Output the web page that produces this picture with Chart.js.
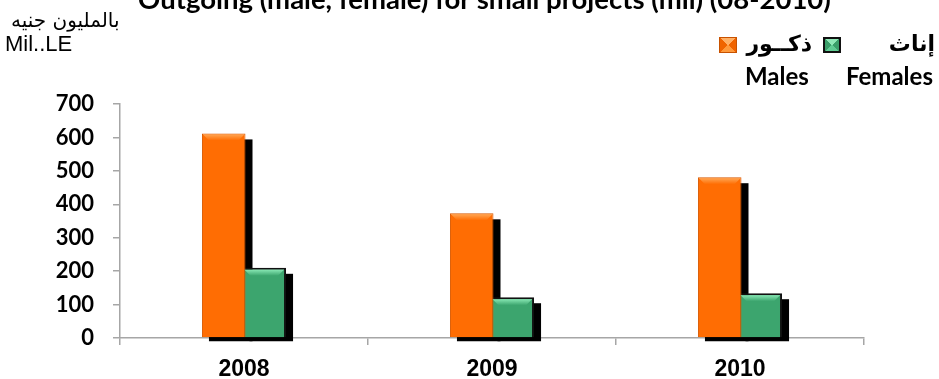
<!DOCTYPE html>
<html>
<head>
<meta charset="utf-8">
<script src="https://cdn.jsdelivr.net/npm/chart.js@4.4.0/dist/chart.umd.min.js"></script>
<style>
  html, body { margin: 0; padding: 0; background: #fff; }
  #wrap { position: relative; width: 939px; height: 379px; overflow: hidden; }
  #chart { position: absolute; left: 0; top: 0; }
  .txt { position: absolute; white-space: nowrap; color: #000; line-height: 1; }
  #title { left: 15px; width: 939px; text-align: center; top: -18px; font: bold 27.5px Lato, sans-serif; }
  #unitAr { left: 11px; top: 8px; font: 20px "DejaVu Sans", sans-serif; direction: rtl; }
  #unitEn { left: 5px; top: 31px; font: 22px "Liberation Sans", Arial, sans-serif; }
  .ar { font: bold 22px "DejaVu Sans", sans-serif; direction: rtl; top: 31px; }
  .en { font: bold 24px Lato, sans-serif; top: 61px; }
  .box { position: absolute; top: 37px; width: 18px; height: 16px; box-sizing: border-box; }
  #boxM { left: 719px; border: 1px solid #c85200;
    background: conic-gradient(#ffb066 0 45deg, #f06400 45deg 135deg, #ff9a3c 135deg 225deg, #f06400 225deg 315deg, #ffb066 315deg); }
  #boxF { left: 823px; border: 2px solid #111;
    background: conic-gradient(#8fe8b6 0 45deg, #3a9e69 45deg 135deg, #5fcb92 135deg 225deg, #3a9e69 225deg 315deg, #8fe8b6 315deg); }
</style>
</head>
<body>
<div id="wrap">
  <canvas id="chart" width="939" height="379"></canvas>
  <div class="txt" id="title">Outgoing (male, female) for small projects (mil) (08-2010)</div>
  <div class="txt" id="unitAr">بالمليون جنيه</div>
  <div class="txt" id="unitEn">Mil..LE</div>
  <div class="box" id="boxM"></div>
  <div class="txt ar" style="right:127px">ذكــور</div>
  <div class="box" id="boxF"></div>
  <div class="txt ar" style="right:4px">إناث</div>
  <div class="txt en" style="left:745px">Males</div>
  <div class="txt en" style="left:846px">Females</div>
</div>
<script>
const years = ["2008", "2009", "2010"];
const males = [612, 373, 481];
const females = [210, 122, 134];
const yTicks = [0, 100, 200, 300, 400, 500, 600, 700];

// colours per series: fill, border, light top bevel
const looks = [
  { fill: "#ff6d03", border: "#d95a00", bevel: "#ffa552", width: 1 },
  { fill: "#3ca56e", border: "#111111", bevel: "#86e6b2", width: 2 }
];

function barBox(bar) {
  return bar.getProps(["x", "y", "base", "width"], true);
}

// black offset shadows go under every bar, bevels on top of them all
const barEffects = {
  id: "barEffects",
  beforeDatasetsDraw(chart) {
    const ctx = chart.ctx;
    ctx.save();
    ctx.fillStyle = "#000";
    chart.getSortedVisibleDatasetMetas().forEach(meta => {
      meta.data.forEach(bar => {
        const p = barBox(bar);
        ctx.fillRect(p.x - p.width / 2 + 7, p.y + 6, p.width, p.base + 4 - (p.y + 6));
      });
    });
    ctx.restore();
  },
  afterDatasetsDraw(chart) {
    const ctx = chart.ctx;
    chart.getSortedVisibleDatasetMetas().forEach(meta => {
      const look = looks[meta.index];
      meta.data.forEach(bar => {
        const p = barBox(bar);
        const b = look.width;
        const l = p.x - p.width / 2 + b, r = p.x + p.width / 2 - b;
        const t = p.y + b, d = 6;
        const g = ctx.createLinearGradient(0, t, 0, t + d);
        g.addColorStop(0, look.bevel);
        g.addColorStop(1, look.fill);
        ctx.save();
        ctx.fillStyle = g;
        ctx.beginPath();
        ctx.moveTo(l, t);
        ctx.lineTo(r, t);
        ctx.lineTo(r - d, t + d);
        ctx.lineTo(l + d, t + d);
        ctx.closePath();
        ctx.fill();
        ctx.restore();
      });
    });
  }
};

new Chart(document.getElementById("chart"), {
  type: "bar",
  data: {
    labels: years,
    datasets: [
      {
        label: "Males",
        data: males,
        backgroundColor: looks[0].fill,
        borderColor: looks[0].border,
        borderWidth: looks[0].width
      },
      {
        label: "Females",
        data: females,
        backgroundColor: looks[1].fill,
        borderColor: looks[1].border,
        borderWidth: looks[1].width
      }
    ]
  },
  options: {
    responsive: false,
    animation: false,
    categoryPercentage: 0.327,
    barPercentage: 1.074,
    layout: { padding: { left: 0, top: 104, right: 75, bottom: 0 } },
    plugins: { legend: { display: false }, title: { display: false }, tooltip: { enabled: false } },
    scales: {
      x: {
        z: 1,
        afterFit(scale) { scale.height = 41; },
        border: { color: "#a6a6a6", width: 1.5 },
        grid: { drawOnChartArea: false, color: "#a6a6a6", tickLength: 7, lineWidth: 1.5 },
        ticks: { color: "#000", padding: 11, font: { family: "Liberation Sans", size: 23, weight: "bold" } }
      },
      y: {
        min: 0,
        max: 700,
        afterFit(scale) { scale.width = 120; },
        afterBuildTicks(scale) { scale.ticks = yTicks.map(v => ({ value: v })); },
        border: { color: "#a6a6a6", width: 1.5 },
        grid: { drawOnChartArea: false, color: "#a6a6a6", tickLength: 7, lineWidth: 1.5 },
        ticks: { color: "#000", padding: 19, font: { family: "Lato", size: 22, weight: "bold" } }
      }
    }
  },
  plugins: [barEffects]
});
</script>
</body>
</html>
